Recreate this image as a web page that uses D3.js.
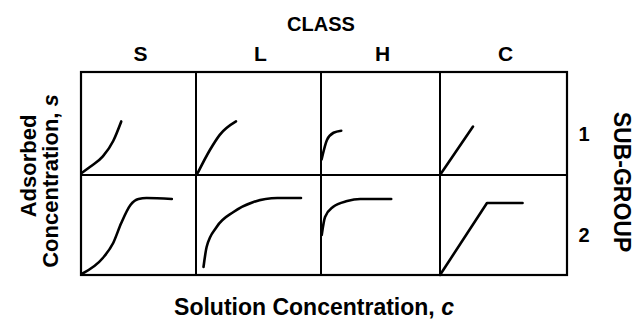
<!DOCTYPE html>
<html>
<head>
<meta charset="utf-8">
<script src="https://cdn.jsdelivr.net/npm/d3@7"></script>
<style>
  body { margin: 0; background: #fff; }
  text { font-family: "Liberation Sans", Arial, sans-serif; font-weight: bold; fill: #000; }
</style>
</head>
<body>
<div id="chart"></div>
<script>
// classes across the top, sub-groups down the side
var classes = ["S", "L", "H", "C"];
var subgroups = ["1", "2"];

// isotherm shapes, [c, s] as fraction of each cell
var curveS1 = [[0.006, 0.02], [0.08, 0.08], [0.19, 0.18], [0.28, 0.33], [0.35, 0.52]];
var curveL1 = [[0.014, 0.02], [0.11, 0.24], [0.19, 0.39], [0.32, 0.52]];
var curveH1 = [[0.005, 0.15], [0.05, 0.34], [0.105, 0.41], [0.17, 0.43]];
var curveC1 = [[0, 0], [0.26, 0.47]];
var curveS2 = [[0.006, 0.01], [0.19, 0.17], [0.28, 0.32], [0.35, 0.52], [0.43, 0.7], [0.5, 0.76], [0.57, 0.77], [0.79, 0.76]];
var curveL2 = [[0.06, 0.08], [0.085, 0.28], [0.165, 0.48], [0.3, 0.63], [0.46, 0.73], [0.65, 0.77], [0.84, 0.77]];
var curveH2 = [[0.006, 0.4], [0.034, 0.58], [0.1, 0.68], [0.22, 0.74], [0.33, 0.76], [0.59, 0.76]];
var curveC2 = [[0, 0], [0.37, 0.72], [0.65, 0.72]];

var cells = [
  { col: 0, row: 0, pts: curveS1, smooth: true },
  { col: 1, row: 0, pts: curveL1, smooth: true },
  { col: 2, row: 0, pts: curveH1, smooth: true },
  { col: 3, row: 0, pts: curveC1, smooth: false },
  { col: 0, row: 1, pts: curveS2, smooth: true },
  { col: 1, row: 1, pts: curveL2, smooth: true },
  { col: 2, row: 1, pts: curveH2, smooth: true },
  { col: 3, row: 1, pts: curveC2, smooth: false }
];

var w = 642, h = 324;

var svg = d3.select("#chart")
  .append("svg")
  .attr("width", w)
  .attr("height", h);

// grid edges (scanned figure has slightly uneven columns)
var colScale = d3.scaleLinear().domain([0, 1, 2, 3, 4]).range([81, 196, 321, 440, 567]);
var rowScale = d3.scaleLinear().domain([0, 1, 2]).range([72, 175, 275]);

// outer box
svg.append("rect")
  .attr("x", colScale(0))
  .attr("y", rowScale(0))
  .attr("width", colScale(4) - colScale(0))
  .attr("height", rowScale(2) - rowScale(0))
  .style("fill", "none")
  .style("stroke", "#000")
  .style("stroke-width", 2.2);

// inner lines
svg.selectAll(".vline")
  .data([1, 2, 3])
  .enter().append("line")
  .attr("class", "vline")
  .attr("x1", function (d) { return colScale(d); })
  .attr("x2", function (d) { return colScale(d); })
  .attr("y1", rowScale(0))
  .attr("y2", rowScale(2))
  .style("stroke", "#000")
  .style("stroke-width", 2);

svg.append("line")
  .attr("x1", colScale(0))
  .attr("x2", colScale(4))
  .attr("y1", rowScale(1))
  .attr("y2", rowScale(1))
  .style("stroke", "#000")
  .style("stroke-width", 2);

// curves
cells.forEach(function (cell) {
  var x = d3.scaleLinear().domain([0, 1]).range([colScale(cell.col), colScale(cell.col + 1)]);
  var y = d3.scaleLinear().domain([0, 1]).range([rowScale(cell.row + 1), rowScale(cell.row)]);
  var line = d3.line()
    .x(function (d) { return x(d[0]); })
    .y(function (d) { return y(d[1]); })
    .curve(cell.smooth ? d3.curveMonotoneX : d3.curveLinear);
  svg.append("path")
    .datum(cell.pts)
    .attr("d", line)
    .style("fill", "none")
    .style("stroke", "#000")
    .style("stroke-width", 2.6)
    .style("stroke-linecap", "round")
    .style("stroke-linejoin", "round");
});

// header
svg.append("text")
  .attr("x", 321)
  .attr("y", 31)
  .attr("text-anchor", "middle")
  .style("font-size", "20px")
  .text("CLASS");

svg.selectAll(".classLabel")
  .data(classes)
  .enter().append("text")
  .attr("class", "classLabel")
  .attr("x", function (d, i) { return (colScale(i) + colScale(i + 1)) / 2 + 2; })
  .attr("y", 61)
  .attr("text-anchor", "middle")
  .style("font-size", "21px")
  .text(function (d) { return d; });

// sub-group numbers
svg.selectAll(".subLabel")
  .data(subgroups)
  .enter().append("text")
  .attr("class", "subLabel")
  .attr("x", 584)
  .attr("y", function (d, i) { return (rowScale(i) + rowScale(i + 1)) / 2 + 17; })
  .attr("text-anchor", "middle")
  .style("font-size", "20px")
  .text(function (d) { return d; });

svg.append("text")
  .attr("transform", "translate(614,182) rotate(90)")
  .attr("text-anchor", "middle")
  .style("font-size", "23px")
  .text("SUB-GROUP");

// y title
svg.append("text")
  .attr("transform", "translate(36,166) rotate(-90)")
  .attr("text-anchor", "middle")
  .style("font-size", "22px")
  .text("Adsorbed");

var yTitle = svg.append("text")
  .attr("transform", "translate(58,181) rotate(-90)")
  .attr("text-anchor", "middle")
  .style("font-size", "22px");
yTitle.append("tspan").text("Concentration, ");
yTitle.append("tspan").style("font-style", "italic").text("s");

// x title
var xTitle = svg.append("text")
  .attr("x", 314)
  .attr("y", 315)
  .attr("text-anchor", "middle")
  .style("font-size", "23px");
xTitle.append("tspan").text("Solution Concentration, ");
xTitle.append("tspan").style("font-style", "italic").text("c");
</script>
</body>
</html>
